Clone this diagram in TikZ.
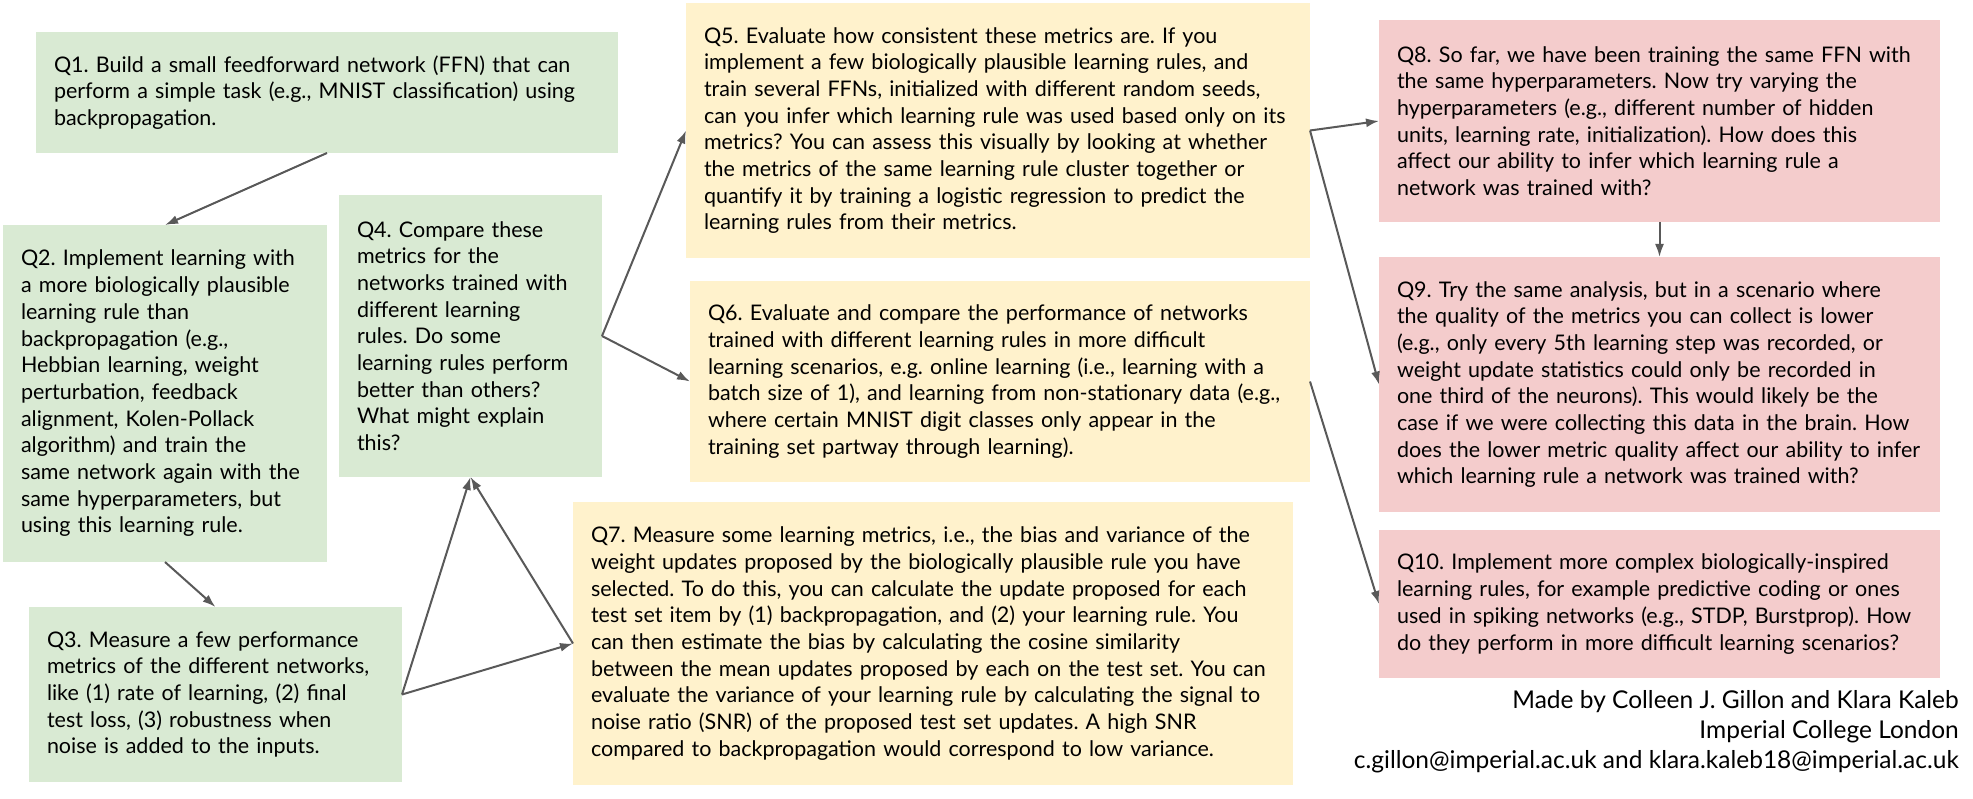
\documentclass[tikz,border=0pt]{standalone}
\usepackage{fontspec}
\setmainfont{Lato}
\frenchspacing
\usetikzlibrary{arrows.meta}
\begin{document}
\begin{tikzpicture}[x=1pt, y=-1pt,
  qbox/.style={rectangle, inner xsep=18pt, inner ysep=0pt, outer sep=0pt, align=left, font=\fontsize{21.5}{26.7}\selectfont},
  link/.style={draw=linkgray, line width=2pt, -{Latex[length=13pt,width=9pt]}}]
\definecolor{qgreen}{HTML}{D9EAD3}
\definecolor{qyellow}{HTML}{FFF2CC}
\definecolor{qred}{HTML}{F4CCCC}
\definecolor{linkgray}{HTML}{595959}
\useasboundingbox (0,0) rectangle (1973,799);
\node[qbox, fill=qgreen, text width=546pt, minimum height=121pt] (q1) at (327,92.5) {Q1. Build a small feedforward network (FFN) that can\\perform a simple task (e.g., MNIST classification) using\\backpropagation.};
\node[qbox, fill=qgreen, text width=288pt, minimum height=337pt] (q2) at (165,393.5) {Q2. Implement learning with\\a more biologically plausible\\learning rule than\\backpropagation (e.g.,\\Hebbian learning, weight\\perturbation, feedback\\alignment, Kolen-Pollack\\algorithm) and train the\\same network again with the\\same hyperparameters, but\\using this learning rule.};
\node[qbox, fill=qgreen, text width=337pt, minimum height=175pt] (q3) at (215.5,694.5) {Q3. Measure a few performance\\metrics of the different networks,\\like (1) rate of learning, (2) final\\test loss, (3) robustness when\\noise is added to the inputs.};
\node[qbox, fill=qgreen, text width=227pt, minimum height=282pt] (q4) at (470.5,336) {Q4. Compare these\\metrics for the\\networks trained with\\different learning\\rules. Do some\\learning rules perform\\better than others?\\What might explain\\this?};
\node[qbox, fill=qyellow, text width=588pt, minimum height=255pt] (q5) at (998,130.5) {Q5. Evaluate how consistent these metrics are. If you\\implement a few biologically plausible learning rules, and\\train several FFNs, initialized with different random seeds,\\can you infer which learning rule was used based only on its\\metrics? You can assess this visually by looking at whether\\the metrics of the same learning rule cluster together or\\quantify it by training a logistic regression to predict the\\learning rules from their metrics.};
\node[qbox, fill=qyellow, text width=584pt, minimum height=201pt] (q6) at (1000,381.5) {Q6. Evaluate and compare the performance of networks\\trained with different learning rules in more difficult\\learning scenarios, e.g. online learning (i.e., learning with a\\batch size of 1), and learning from non-stationary data (e.g.,\\where certain MNIST digit classes only appear in the\\training set partway through learning).};
\node[qbox, fill=qyellow, text width=684pt, minimum height=283pt] (q7) at (933,643.5) {Q7. Measure some learning metrics, i.e., the bias and variance of the\\weight updates proposed by the biologically plausible rule you have\\selected. To do this, you can calculate the update proposed for each\\test set item by (1) backpropagation, and (2) your learning rule. You\\can then estimate the bias by calculating the cosine similarity\\between the mean updates proposed by each on the test set. You can\\evaluate the variance of your learning rule by calculating the signal to\\noise ratio (SNR) of the proposed test set updates. A high SNR\\compared to backpropagation would correspond to low variance.};
\node[qbox, fill=qred, text width=525pt, minimum height=202pt] (q8) at (1659.5,121) {Q8. So far, we have been training the same FFN with\\the same hyperparameters. Now try varying the\\hyperparameters (e.g., different number of hidden\\units, learning rate, initialization). How does this\\affect our ability to infer which learning rule a\\network was trained with?};
\node[qbox, fill=qred, text width=525pt, minimum height=255pt] (q9) at (1659.5,384.5) {Q9. Try the same analysis, but in a scenario where\\the quality of the metrics you can collect is lower\\(e.g., only every 5th learning step was recorded, or\\weight update statistics could only be recorded in\\one third of the neurons). This would likely be the\\case if we were collecting this data in the brain. How\\does the lower metric quality affect our ability to infer\\which learning rule a network was trained with?};
\node[qbox, fill=qred, text width=525pt, minimum height=148pt] (q10) at (1659.5,604) {Q10. Implement more complex biologically-inspired\\learning rules, for example predictive coding or ones\\used in spiking networks (e.g., STDP, Burstprop). How\\do they perform in more difficult learning scenarios?};
\node[anchor=north east, align=right, inner sep=0pt, font=\fontsize{24.5}{30}\selectfont] (credit) at (1959,690) {Made by Colleen J. Gillon and Klara Kaleb\\Imperial College London\\c.gillon@imperial.ac.uk and klara.kaleb18@imperial.ac.uk};
\foreach \a/\b in {q1.south/q2.north, q2.south/q3.north, q3.east/q4.south, q7.west/q4.south, q3.east/q7.west, q4.east/q5.west, q4.east/q6.west, q5.east/q8.west, q5.east/q9.west, q8.south/q9.north, q6.east/q10.west}
  \draw[link] (\a) -- (\b);
\end{tikzpicture}
\end{document}
